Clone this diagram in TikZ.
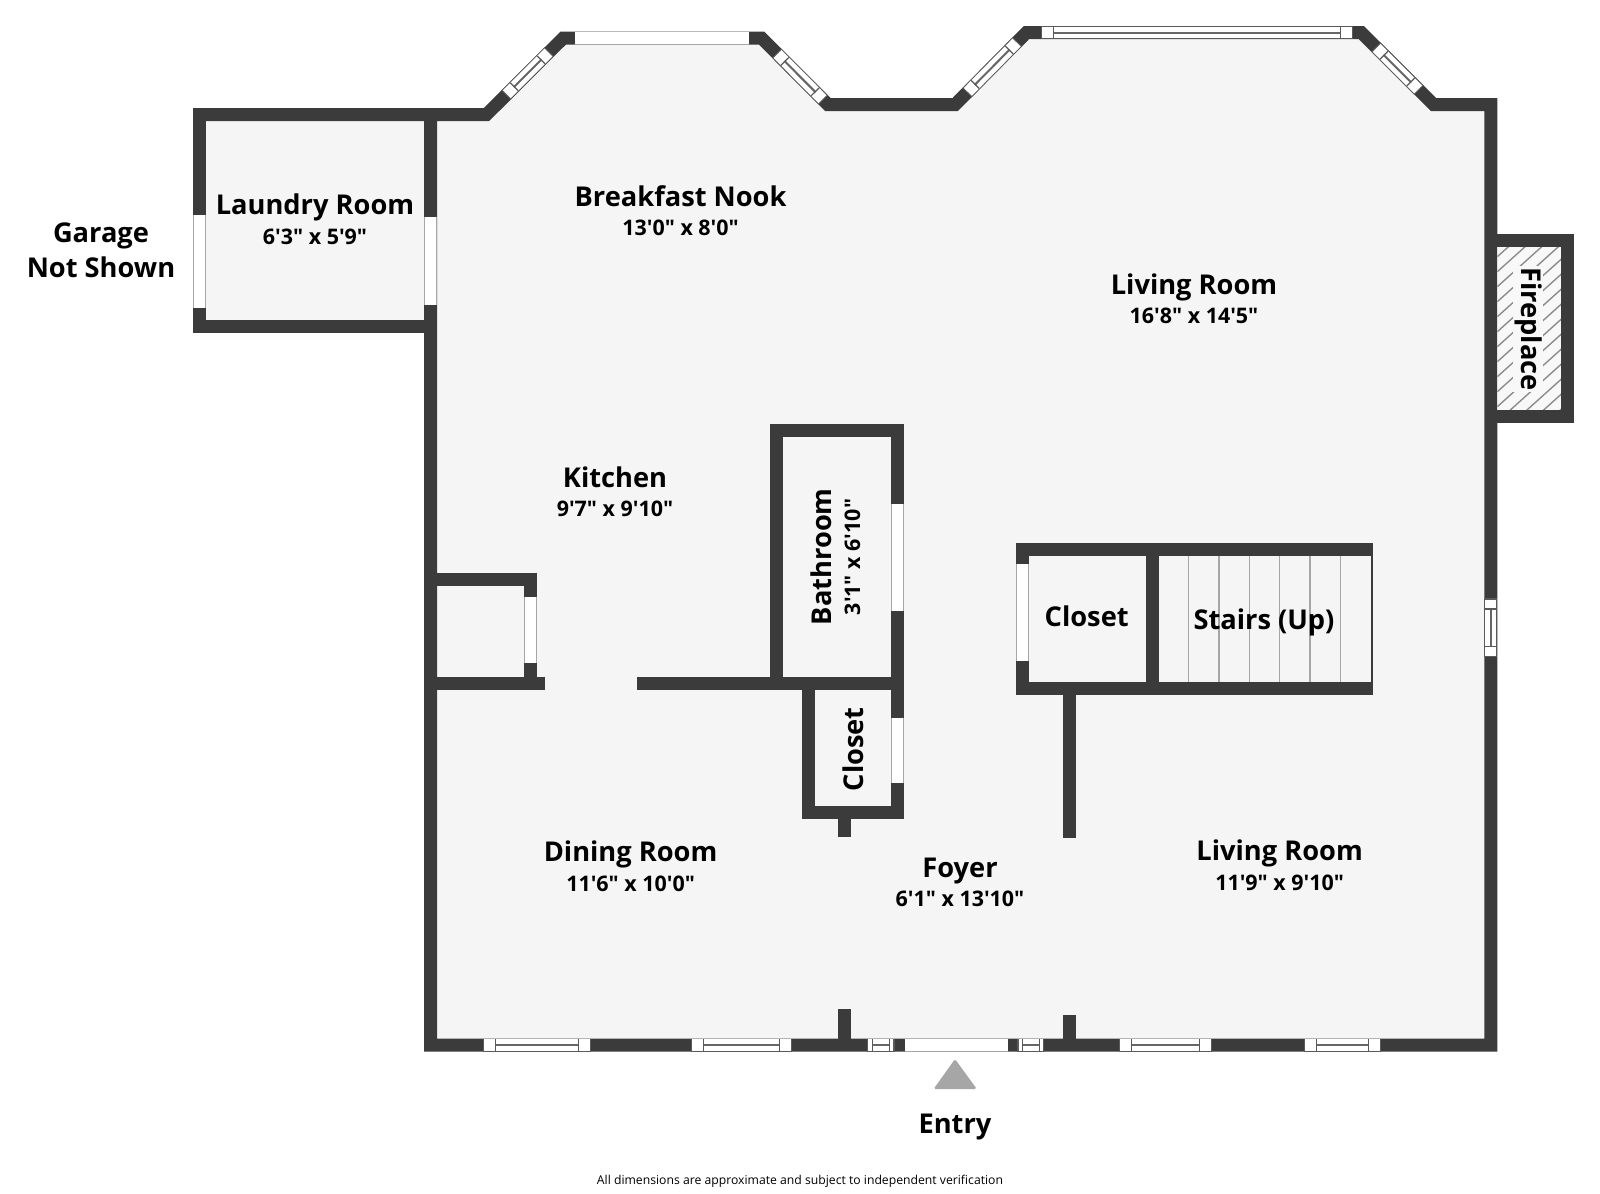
\documentclass[tikz,border=0pt]{standalone}
\usepackage{fontspec}
\newfontfamily\labelfont{Open Sans}[Ligatures=Common]
\usetikzlibrary{calc}
\definecolor{wallcol}{HTML}{3B3B3B}
\definecolor{floorcol}{HTML}{F5F5F5}
\definecolor{edgecol}{HTML}{5A5A5A}
\definecolor{hatchcol}{HTML}{8C8C8C}
\definecolor{hearthcol}{HTML}{F8F8F8}
\tikzset{
    wall/.style={draw=wallcol, line width=0.13cm},
    floorarea/.style={fill=floorcol},
    winedge/.style={draw=edgecol, line width=0.13cm},
    plainedge/.style={draw=gray!70, line width=0.13cm},
    winglass/.style={draw=white, line width=0.112cm},
    winbar/.style={draw=edgecol, line width=0.112cm},
    winmid/.style={draw=gray!80!black, line width=0.02cm},
    roomname/.style={font=\labelfont\fontsize{7.75pt}{9pt}\selectfont\bfseries, anchor=base, inner sep=0pt},
    roomdim/.style={font=\labelfont\fontsize{6.1pt}{8pt}\selectfont\bfseries, anchor=base, inner sep=0pt},
    stepline/.style={draw=gray!70, line width=0.012cm},
}
\newcommand{\plainwin}[2]{%
    \draw[plainedge] #1 -- #2;
    \draw[winglass] #1 -- #2;
}
\newcommand{\paneswin}[3]{%
    \draw[winedge] #1 -- #2;
    \draw[winglass] ($#1!0.012cm!#2$) -- ($#2!0.012cm!#1$);
    \draw[winmid] ($#1!#3!#2$) -- ($#2!#3!#1$);
    \draw[winbar] ($#1!#3!#2$) -- ($#1!#3+0.012cm!#2$);
    \draw[winbar] ($#2!#3!#1$) -- ($#2!#3+0.012cm!#1$);
}
\begin{document}
\begin{tikzpicture}[x=0.01cm, y=-0.01cm]
    \useasboundingbox[fill=white] (0,0) rectangle (1600,1193);

    % Floor
    \fill[floorarea] (430.5,114.5) -- (486.5,114.5) -- (563.3,38) -- (761.5,38) -- (827.8,104.5)
        -- (955.2,104.5) -- (1026.5,32.5) -- (1361.2,32.5) -- (1433.5,104.5) -- (1490.8,104.5)
        -- (1490.8,1045) -- (430.5,1045) -- cycle;
    \fill[floorarea] (199.5,114.5) rectangle (430.5,326.5);

    % Outer walls
    \draw[wall] (199.5,114.5) -- (486.5,114.5) -- (563.3,38) -- (761.5,38) -- (827.8,104.5)
        -- (955.2,104.5) -- (1026.5,32.5) -- (1361.2,32.5) -- (1433.5,104.5) -- (1490.8,104.5)
        -- (1490.8,1045) -- (430.5,1045) -- (430.5,108);
    \draw[wall] (199.5,108) -- (199.5,326.5) -- (430.5,326.5);

    % Fireplace
    \begin{scope}
        \clip (1497.3,246.7) rectangle (1561,410);
        \fill[hearthcol] (1497.3,246.7) rectangle (1561,410);
        \foreach \hy in {256.7,271.7,...,480}
            \draw[hatchcol, line width=0.014cm] (1497.3,\hy) -- +(70,-63);
    \end{scope}
    \draw[wall] (1490.8,240.4) -- (1567.3,240.4) -- (1567.3,416.2) -- (1490.8,416.2);
    \node[roomname, rotate=-90, fill=hearthcol, inner sep=0.4pt] (fireplace) at (1521,329) {Fireplace};

    % Inner walls
    \draw[wall] (430.5,579.3) -| (530.8,683.3);
    \draw[wall] (430.5,683.3) -- (545,683.3);
    \draw[wall] (637,683.3) -- (897.6,683.3);
    \draw[wall] (776.8,683.3) |- (897.6,430.8) -- (897.6,812.5) -- (808.2,812.5) -- (808.2,683.3);
    \draw[wall] (844.2,812.5) -- (844.2,836.7);
    \draw[wall] (844.2,1045) -- (844.2,1009);
    \draw[wall] (1069.3,1045) -- (1069.3,1015);

    % Closet and stairs
    \foreach \sx in {1188.7,1219,1249.3,1279.7,1310,1340.3}
        \draw[stepline] (\sx,555) -- (\sx,682);
    \draw[wall] (1016,549) -- (1373.3,549);
    \draw[wall] (1016,688.5) -- (1373.3,688.5);
    \draw[wall] (1022.7,549) -- (1022.7,688.5);
    \draw[wall] (1152.3,549) -- (1152.3,688.5);
    \draw[wallcol, line width=0.026cm] (1372,549) -- (1372,688.5);
    \draw[wall] (1069.3,688.5) -- (1069.3,837.7);

    % Windows, top
    \plainwin{(575,38)}{(749.3,38)}
    \paneswin{(506,95)}{(549.3,51.7)}{0.11cm}
    \paneswin{(776.7,53.2)}{(823.3,100)}{0.11cm}
    \paneswin{(967,92.7)}{(1017.4,41.7)}{0.11cm}
    \paneswin{(1041,32.5)}{(1353.2,32.5)}{0.12cm}
    \paneswin{(1375.8,47)}{(1419,90.2)}{0.11cm}

    % Windows, sides
    \plainwin{(199.5,215)}{(199.5,307.7)}
    \plainwin{(430.5,216.7)}{(430.5,305)}
    \plainwin{(530.8,596.7)}{(530.8,663.3)}
    \plainwin{(897.6,504)}{(897.6,610.7)}
    \plainwin{(897.6,717.7)}{(897.6,782.7)}
    \plainwin{(1022.7,564.3)}{(1022.7,661)}
    \paneswin{(1490.8,598.3)}{(1490.8,656.7)}{0.1cm}

    % Windows, bottom
    \paneswin{(483,1045)}{(591,1045)}{0.12cm}
    \paneswin{(691,1045)}{(792,1045)}{0.12cm}
    \paneswin{(867,1045)}{(894.5,1045)}{0.045cm}
    \plainwin{(904.5,1045)}{(1007.5,1045)}
    \paneswin{(1017.3,1045)}{(1044.3,1045)}{0.045cm}
    \paneswin{(1119,1045)}{(1212.3,1045)}{0.12cm}
    \paneswin{(1304,1045)}{(1381.3,1045)}{0.12cm}

    % Entry mark
    \fill[gray!70, rounded corners=0.5pt] (955,1059) -- (976.8,1089) -- (933.6,1089) -- cycle;

    % Labels
    \node[roomname] (garage) at (101,242) {Garage};
    \node[roomname] (notshown) at (101,277) {Not Shown};
    \node[roomname] (laundry) at (315,214.5) {Laundry Room};
    \node[roomdim] (laundrydim) at (315,244) {6'3" x 5'9"};
    \node[roomname] (nook) at (680.6,206) {Breakfast Nook};
    \node[roomdim] (nookdim) at (680.6,235) {13'0" x 8'0"};
    \node[roomname] (livingtop) at (1194,294.7) {Living Room};
    \node[roomdim] (livingtopdim) at (1194,323.5) {16'8" x 14'5"};
    \node[roomname] (kitchen) at (615,487.5) {Kitchen};
    \node[roomdim] (kitchendim) at (615,516) {9'7" x 9'10"};
    \node[roomname, rotate=90] (bathroom) at (831.7,556.7) {Bathroom};
    \node[roomdim, rotate=90] (bathroomdim) at (860,557) {3'1" x 6'10"};
    \node[roomname, rotate=90] (closetleft) at (863.3,749.3) {Closet};
    \node[roomname] (closetright) at (1086.7,626) {Closet};
    \node[roomname] (stairs) at (1264,629.3) {Stairs (Up)};
    \node[roomname] (dining) at (630.6,861) {Dining Room};
    \node[roomdim] (diningdim) at (630.6,891.2) {11'6" x 10'0"};
    \node[roomname] (foyer) at (960,877.8) {Foyer};
    \node[roomdim] (foyerdim) at (960,906.5) {6'1" x 13'10"};
    \node[roomname] (livingbot) at (1279.6,860) {Living Room};
    \node[roomdim] (livingbotdim) at (1279.6,890.2) {11'9" x 9'10"};
    \node[roomname] (entry) at (955,1133.5) {Entry};
    \node[font=\labelfont\fontsize{3.47pt}{4pt}\selectfont, anchor=base, inner sep=0pt] (footnote) at (800,1184) {All dimensions are approximate and subject to independent verification};
\end{tikzpicture}
\end{document}
